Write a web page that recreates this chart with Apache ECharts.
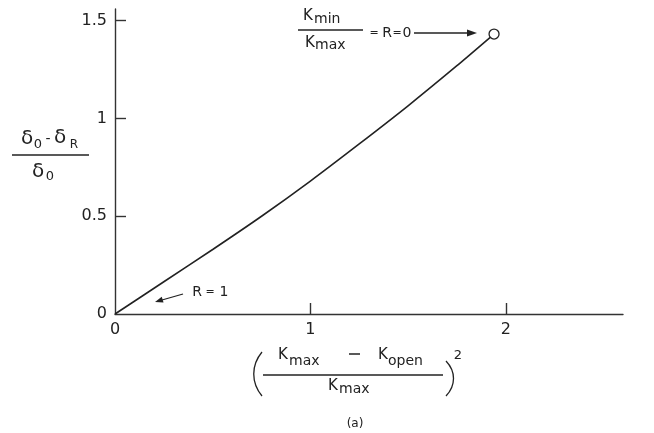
<!DOCTYPE html>
<html>
<head>
<meta charset="utf-8">
<script src="https://cdn.jsdelivr.net/npm/echarts@6/dist/echarts.min.js"></script>
<style>
  html, body { margin: 0; padding: 0; background: #fff; }
  #chart { width: 654px; height: 433px; }
</style>
</head>
<body>
<div id="chart"></div>
<script>
// Relative deflection vs. squared stiffness ratio term
const xValues = [0, 0.25, 0.5, 0.75, 1.0, 1.25, 1.5, 1.75, 1.94];
const yValues = [0, 0.165, 0.33, 0.5, 0.68, 0.87, 1.065, 1.27, 1.432];
const xTickValues = [0, 1, 2];
const xTickLabels = ['0', '1', '2'];
const yTickValues = [0, 0.5, 1, 1.5];
const yTickLabels = ['0', '0.5', '1', '1.5'];

const INK = '#222';
const FONT = 'DejaVu Sans';

function t(x, y, s, size, align) {
  return {
    type: 'text', x: x, y: y, z: 10,
    style: { text: s, fontSize: size, fontFamily: FONT, fill: INK,
             textAlign: align || 'center', textVerticalAlign: 'middle' }
  };
}
function seg(x1, y1, x2, y2, w) {
  return { type: 'line', z: 10, shape: { x1: x1, y1: y1, x2: x2, y2: y2 },
           style: { stroke: INK, lineWidth: w || 1.3 } };
}
// arrowhead with its tip at (x, y), pointing along (dx, dy)
function head(x, y, dx, dy, len, wid) {
  const n = Math.hypot(dx, dy), ux = dx / n, uy = dy / n;
  const bx = x - ux * len, by = y - uy * len;
  return { type: 'polygon', z: 10,
           shape: { points: [[x, y], [bx - uy * wid, by + ux * wid], [bx + uy * wid, by - ux * wid]] },
           style: { fill: INK } };
}
function paren(x1, y1, cx, x2, y2) {
  return { type: 'bezierCurve', z: 10,
           shape: { x1: x1, y1: y1, x2: x2, y2: y2,
                    cpx1: cx, cpy1: y1 + (y2 - y1) * 0.3, cpx2: cx, cpy2: y1 + (y2 - y1) * 0.7 },
           style: { stroke: INK, lineWidth: 1.3, fill: null } };
}

const lastIdx = xValues.length - 1;
const curve = xValues.map((x, i) => ({
  value: [x, yValues[i]],
  symbol: i === lastIdx ? 'circle' : 'none'
}));

const axisCommon = {
  type: 'value',
  axisLine: { show: true, onZero: false, lineStyle: { color: '#333', width: 1.4 } },
  splitLine: { show: false },
  axisTick: { show: true, inside: true, length: 11, lineStyle: { color: '#333', width: 1.4 } },
  axisLabel: { color: INK, fontFamily: FONT, fontSize: 16, margin: 8 }
};

const chart = echarts.init(document.getElementById('chart'), null, { renderer: 'canvas' });
chart.setOption({
  animation: false,
  backgroundColor: '#fff',
  grid: { left: 115, right: 31, top: 9, bottom: 119, containLabel: false },
  xAxis: Object.assign({}, axisCommon, {
    min: 0, max: 2.6,
    axisTick: Object.assign({}, axisCommon.axisTick, { customValues: [1, 2] }),
    axisLabel: Object.assign({}, axisCommon.axisLabel, {
      customValues: xTickValues,
      formatter: v => xTickLabels[xTickValues.indexOf(v)] ?? ''
    })
  }),
  yAxis: Object.assign({}, axisCommon, {
    min: 0, max: 1.56,
    axisTick: Object.assign({}, axisCommon.axisTick, { customValues: [0.5, 1, 1.5] }),
    axisLabel: Object.assign({}, axisCommon.axisLabel, {
      customValues: yTickValues,
      formatter: v => yTickLabels[yTickValues.indexOf(v)] ?? ''
    })
  }),
  series: [{
    type: 'line',
    data: curve,
    smooth: 0.3,
    showSymbol: true,
    symbolSize: 10,
    itemStyle: { color: '#fff', borderColor: INK, borderWidth: 1.3 },
    lineStyle: { color: INK, width: 1.6 },
    emphasis: { disabled: true }
  }],
  graphic: [
    // vertical axis title: (δ0 - δR) / δ0
    t(27, 139, 'δ', 20), t(38, 145, '0', 13), t(48, 139, '-', 14),
    t(60, 138, 'δ', 20), t(74, 145, 'R', 12),
    seg(12, 155, 89, 155, 1.5),
    t(38, 172, 'δ', 20), t(50, 177, '0', 13),

    // horizontal axis title: ((Kmax - Kopen) / Kmax)^2
    paren(262, 352, 251, 262, 396),
    paren(446, 361, 456, 446, 396),
    t(458, 356, '2', 13),
    t(278, 355, 'K', 15, 'left'), t(289, 361, 'max', 14, 'left'),
    seg(349, 354, 360, 354, 1.5),
    t(378, 355, 'K', 15, 'left'), t(388, 361, 'open', 14, 'left'),
    seg(263, 375, 443, 375, 1.5),
    t(328, 386, 'K', 15, 'left'), t(339, 389, 'max', 14, 'left'),
    t(355, 424, '(a)', 12),

    // end-point note: Kmin / Kmax = R = 0
    t(303, 16, 'K', 15, 'left'), t(314, 19, 'min', 14, 'left'),
    seg(298, 30, 363, 30, 1.3),
    t(305, 43, 'K', 15, 'left'), t(315, 45, 'max', 14, 'left'),
    t(374, 33, '=', 11), t(387, 33, 'R', 14), t(397, 33, '=', 11), t(407, 33, '0', 14),
    seg(414, 33, 468, 33, 1.5), head(477, 33, 1, 0, 10, 3.5),

    // start-point note: R = 1
    t(197, 292, 'R', 14), t(210, 292, '=', 11), t(224, 292, '1', 14),
    seg(183, 294, 162, 300, 1.2), head(155, 302, -26, 8, 8, 3)
  ]
});
</script>
</body>
</html>
